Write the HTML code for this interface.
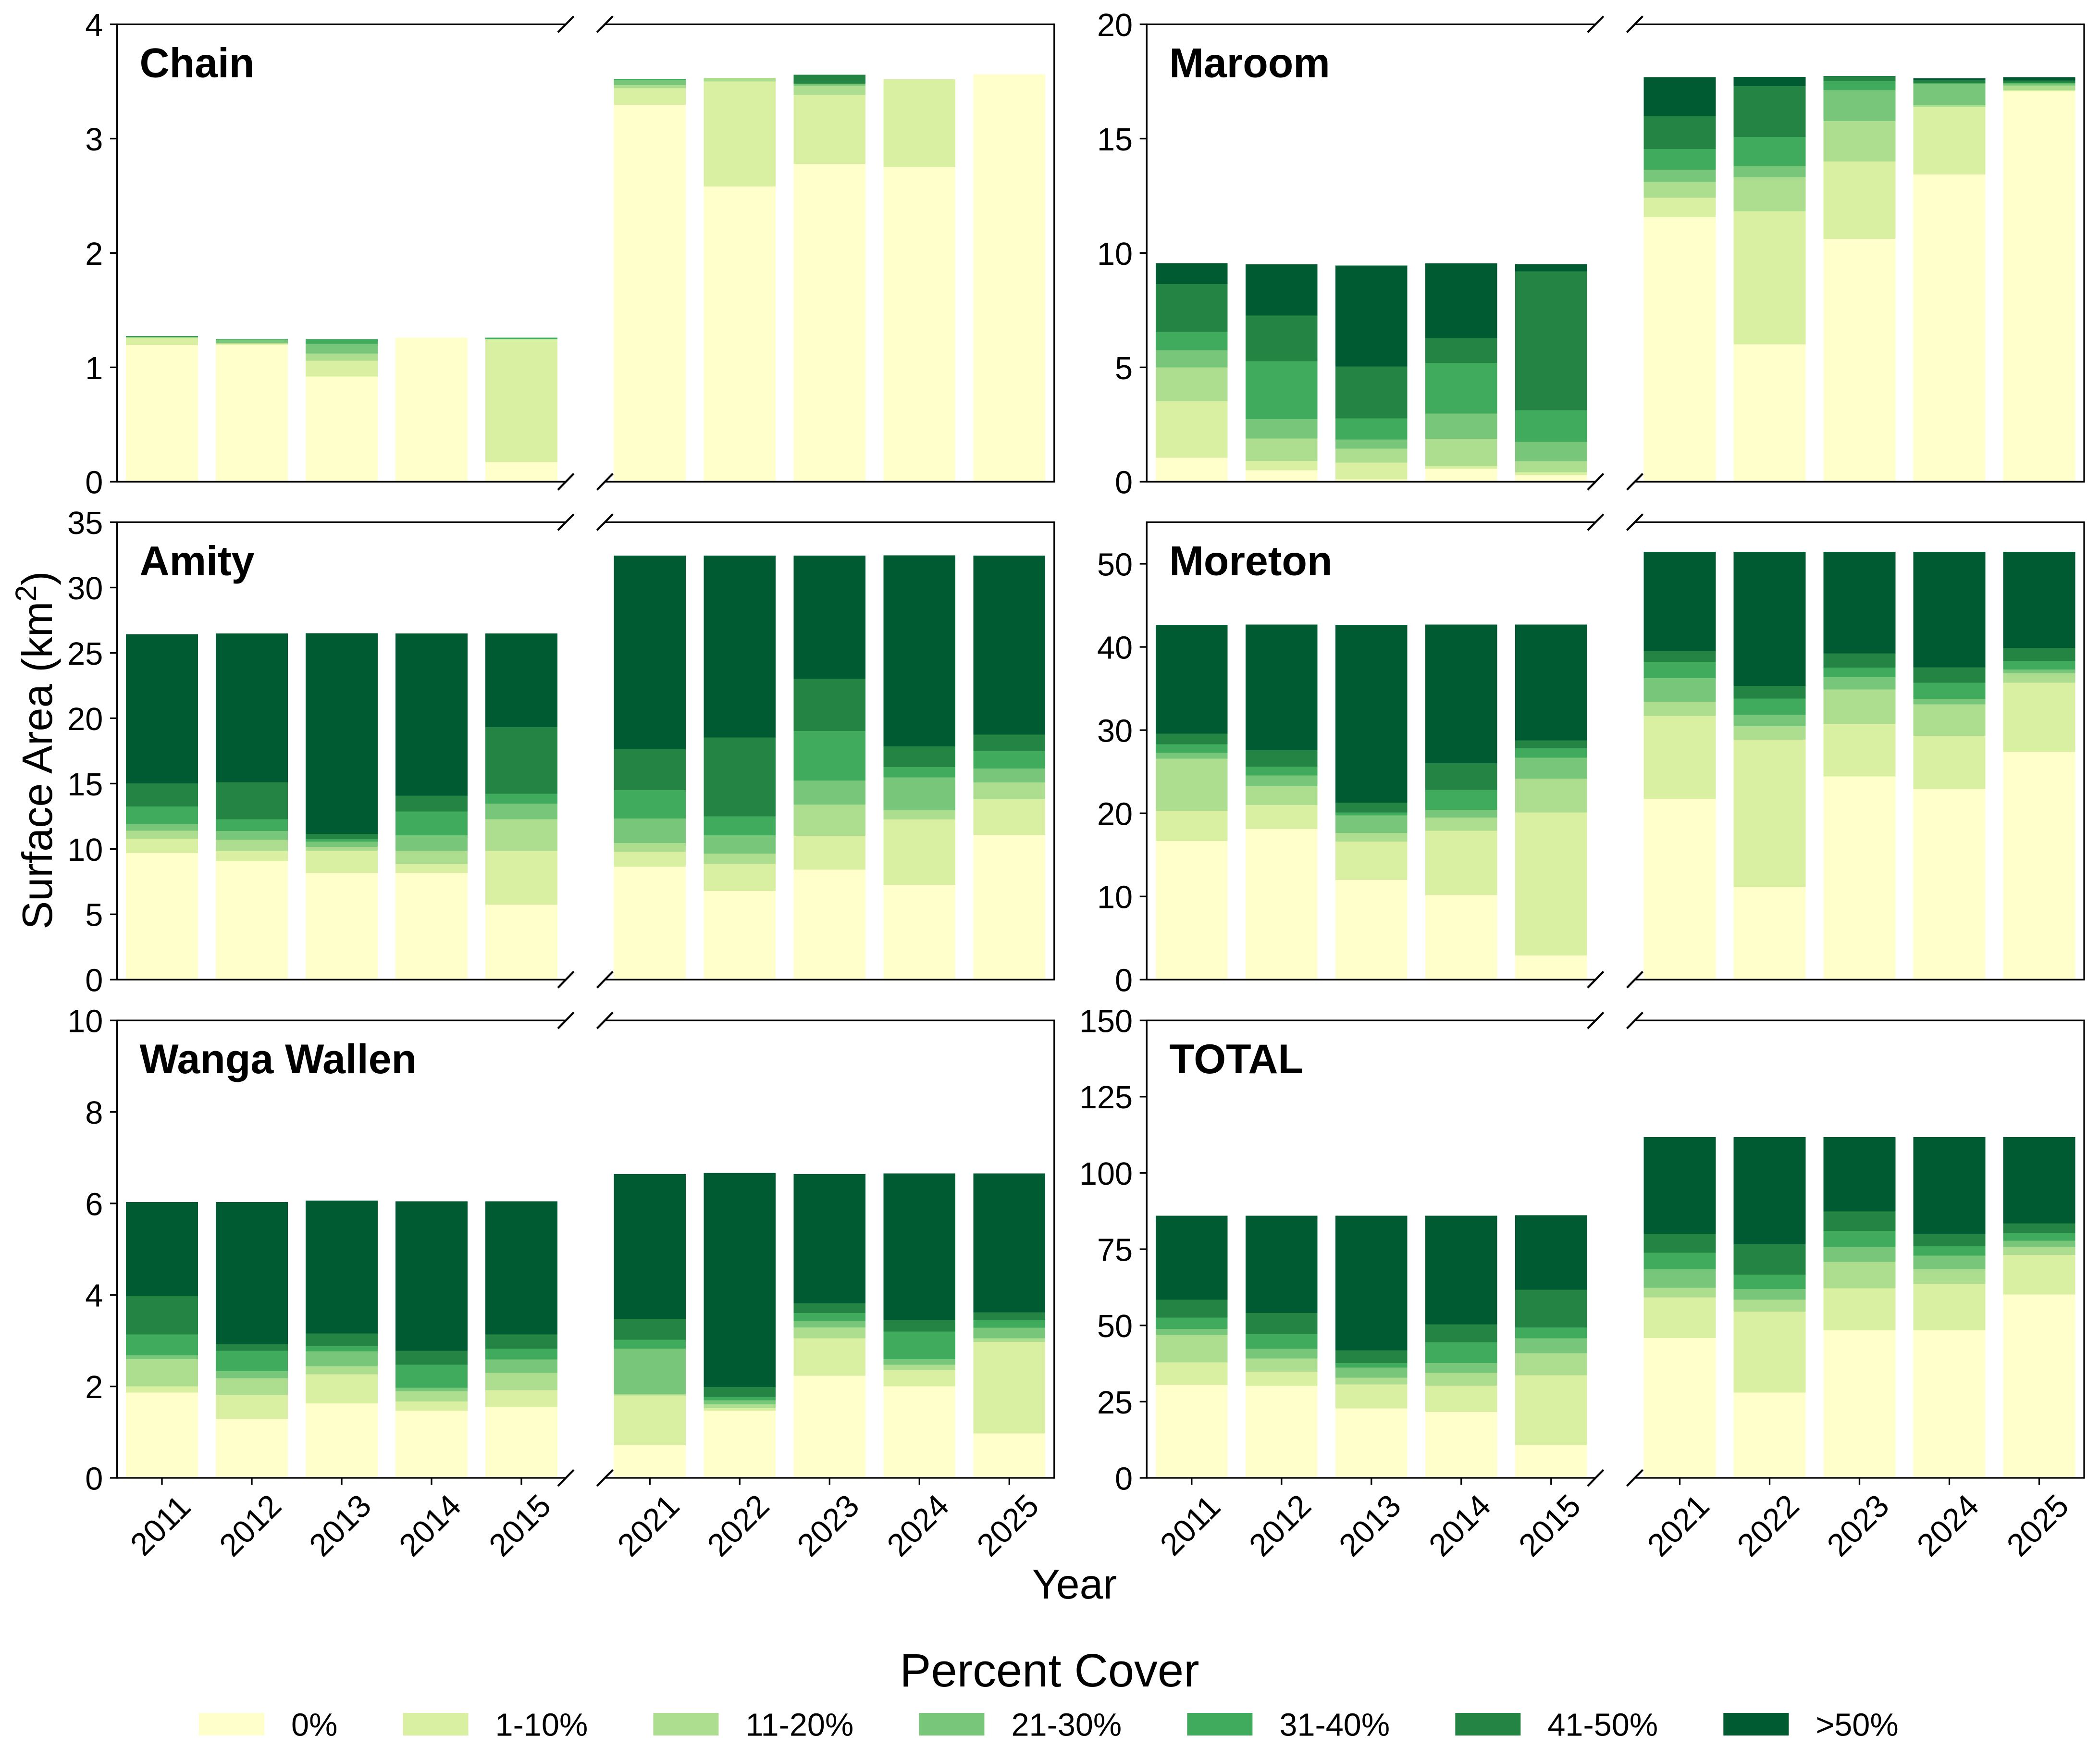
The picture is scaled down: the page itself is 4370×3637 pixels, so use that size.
<!DOCTYPE html>
<html lang="en">
<head>
<meta charset="utf-8">
<title>Percent cover by surface area</title>
<style>
html,body{margin:0;padding:0;background:#fff;}
svg{display:block;}
text{font-family:"Liberation Sans",Arial,sans-serif;fill:#000;}
</style>
</head>
<body>
<svg id="chart" xmlns="http://www.w3.org/2000/svg" width="4370" height="3637" viewBox="0 0 4370 3637"></svg>
<script>
const years = [2011,2012,2013,2014,2015,2021,2022,2023,2024,2025];
const coverLabels = ['0%','1-10%','11-20%','21-30%','31-40%','41-50%','>50%'];
const coverColors = ['#ffffcc','#d9f0a3','#addd8e','#78c679','#41ab5d','#238443','#005a32'];

// One row per year, one column per cover class (km2)
const chainValues = [
 [1.195,.06,.006,.006,.004,.003,0],
 [1.20,.008,.005,.03,.004,.003,0],
 [.92,.139,.062,.085,.039,.003,0],
 [1.26,0,0,0,0,0,0],
 [.171,1.074,0,0,.015,0,0],
 [3.295,.147,.027,.044,.007,.002,0],
 [2.581,.918,.032,0,0,0,0],
 [2.779,.604,.08,.018,0,.077,0],
 [2.752,.767,0,0,0,0,0],
 [3.563,0,0,0,0,0,0]
];
const maroomValues = [
 [1.047,2.478,1.475,.752,.797,2.094,.915],
 [.501,.413,.974,.855,2.522,2.006,2.228],
 [.103,.738,.604,.399,.929,2.271,4.41],
 [.56,.133,1.18,1.106,2.213,1.091,3.26],
 [.295,.118,.487,.855,1.372,6.077,.309],
 [11.578,.841,.693,.531,.9,1.445,1.696],
 [6.003,5.826,1.475,.501,1.269,2.227,.398],
 [10.619,3.378,1.77,1.357,.383,.222,.015],
 [13.437,2.935,.088,.944,.02,.128,.088],
 [17.065,.059,.192,.103,.029,.089,.147]
];
const amityValues = [
 [9.673,1.107,.615,.517,1.33,1.771,11.421],
 [9.082,.788,.836,.665,.911,2.83,11.371],
 [8.147,1.723,.295,.394,.197,.393,15.358],
 [8.147,.689,1.034,1.181,1.821,1.206,12.405],
 [5.735,4.135,2.412,1.181,.763,5.095,7.162],
 [8.639,1.157,.664,1.871,2.166,3.15,14.792],
 [6.768,2.092,.788,1.403,1.452,6.03,13.906],
 [8.417,2.585,2.387,1.846,3.79,3.987,9.427],
 [7.26,4.997,.689,2.535,.788,1.575,14.62],
 [11.076,2.732,1.279,1.059,1.329,1.28,13.684]
];
const moretonValues = [
 [16.67,3.636,6.265,.696,1.045,1.276,13.072],
 [18.101,2.901,2.243,1.315,1.044,1.973,15.123],
 [11.99,4.603,1.044,2.127,.348,1.161,21.387],
 [10.172,7.736,1.585,.929,2.398,3.21,16.67],
 [2.901,17.211,4.061,2.514,1.161,.928,13.924],
 [21.737,9.978,1.702,2.823,1.973,1.315,11.912],
 [11.1,17.753,1.625,1.353,1.973,1.508,16.128],
 [24.444,6.304,4.139,1.47,1.16,1.702,12.221],
 [22.936,6.381,3.791,.657,1.934,1.857,13.884],
 [27.384,8.315,1.122,.464,1.044,1.547,11.564]
];
const wangaValues = [
 [1.864,.139,.593,.085,.455,.839,2.057],
 [1.287,.523,.37,.154,.447,.147,3.104],
 [1.626,.639,.177,.324,.115,.278,2.904],
 [1.464,.208,.223,.077,.501,.308,3.267],
 [1.549,.369,.378,.293,.238,.309,2.912],
 [.716,1.087,.038,.986,.193,.455,3.166],
 [1.471,.054,.085,.085,.077,.216,4.676],
 [2.234,.817,.239,.138,.178,.215,2.82],
 [2.003,.354,.116,.123,.601,.254,3.205],
 [.971,2.003,.077,.231,.177,.162,3.035]
];
const totalValues = [
 [30.51,7.4,9.01,1.96,3.7,5.9,27.5],
 [30.16,4.63,4.39,3.12,4.85,6.94,31.89],
 [22.77,7.86,2.19,3.35,1.5,4.17,44.14],
 [21.61,8.67,4.16,3.23,6.82,5.9,35.59],
 [10.75,22.88,7.28,4.85,3.59,12.36,24.39],
 [45.88,13.29,3.12,6.13,5.43,6.24,31.66],
 [27.97,26.58,3.93,3.46,4.74,9.94,35.13],
 [48.42,13.75,8.67,4.86,5.31,6.36,24.38],
 [48.42,15.26,4.74,4.5,3.12,3.93,31.78],
 [60.09,13.06,2.55,2.08,2.54,3.12,28.31]
];

const chainTicks = [0,1,2,3,4];
const maroomTicks = [0,5,10,15,20];
const amityTicks = [0,5,10,15,20,25,30,35];
const moretonTicks = [0,10,20,30,40,50];
const wangaTicks = [0,2,4,6,8,10];
const totalTicks = [0,25,50,75,100,125,150];

const panels = [
 {title:'Chain', key:'chain', col:0, row:0, yMax:4, ticks:chainTicks, values:chainValues},
 {title:'Maroom', key:'maroom', col:1, row:0, yMax:20, ticks:maroomTicks, values:maroomValues},
 {title:'Amity', key:'amity', col:0, row:1, yMax:35, ticks:amityTicks, values:amityValues},
 {title:'Moreton', key:'moreton', col:1, row:1, yMax:55, ticks:moretonTicks, values:moretonValues},
 {title:'Wanga Wallen', key:'wanga-wallen', col:0, row:2, yMax:10, ticks:wangaTicks, values:wangaValues},
 {title:'TOTAL', key:'total', col:1, row:2, yMax:150, ticks:totalTicks, values:totalValues}
];

const SVGNS = 'http://www.w3.org/2000/svg';
const svg = document.getElementById('chart');
const colLeft = [243.5, 2386.3];
const colRight = [1258.8, 3402];
const rowTop = [50.5, 1086.5, 2123.2];
const plotH = 951.8;
const segW = 935;
const pitch = segW / 5;
const axisW = 3.3;
const tickLen = 14.6;
const tickFont = 66.67;

function mk(parent, tag, attrs, txt) {
  const el = document.createElementNS(SVGNS, tag);
  for (const k in attrs) el.setAttribute(k, attrs[k]);
  if (txt !== undefined) el.textContent = txt;
  parent.appendChild(el);
  return el;
}
function xScale(p, i) {
  return i < 5
    ? colLeft[p.col] + (i + 0.5) * pitch
    : colRight[p.col] + (i - 5 + 0.5) * pitch;
}
function yScale(p, v) {
  return rowTop[p.row] + plotH - (v / p.yMax) * plotH;
}
function axisLine(parent, x1, y1, x2, y2, w) {
  return mk(parent, 'line', {x1:x1, y1:y1, x2:x2, y2:y2, stroke:'#000', 'stroke-width':w});
}

panels.forEach(function (p) {
  const g = mk(svg, 'g', {});
  
  

  // stacked bars
  p.values.forEach(function (row, i) {
    let base = 0;
    row.forEach(function (v, s) {
      if (v > 0) {
        const yTop = yScale(p, base + v);
        const yBot = yScale(p, base);
        const bw = pitch * 0.8;
        const bar = mk(g, 'rect', {x: xScale(p, i) - bw / 2, y: yTop, width: bw, height: yBot - yTop, fill: coverColors[s], 'shape-rendering': 'crispEdges'});
        
        
      }
      base += v;
    });
  });

  const L = colLeft[p.col], R = colRight[p.col];
  const top = rowTop[p.row], bot = top + plotH;

  // spines
  const sl = axisLine(g, L, top - axisW / 2, L, bot + axisW / 2, axisW);
  
  
  const st1 = axisLine(g, L, top, L + segW, top, axisW);
  
  
  const sb1 = axisLine(g, L, bot, L + segW, bot, axisW);
  
  
  const st2 = axisLine(g, R, top, R + segW, top, axisW);
  
  
  const sb2 = axisLine(g, R, bot, R + segW, bot, axisW);
  
  
  const sr = axisLine(g, R + segW, top - axisW / 2, R + segW, bot + axisW / 2, axisW);
  
  

  // axis-break marks
  [L + segW - 1, R].forEach(function (bx) {
    [top, bot].forEach(function (by) {
      const m = axisLine(g, bx - 16.5, by + 16.8, bx + 16.5, by - 16.8, 4.2);
      
      
    });
  });

  // y ticks
  p.ticks.forEach(function (t) {
    const y = yScale(p, t);
    const tk = axisLine(g, L - tickLen, y, L, y, axisW);
    
    
    const lb = mk(g, 'text', {x: L - 29.2, y: y + 24.4, 'text-anchor': 'end', 'font-size': tickFont}, String(t));
    
    
  });

  // x ticks on the bottom row only
  if (p.row === 2) {
    years.forEach(function (yr, i) {
      const x = xScale(p, i);
      const tk = axisLine(g, x, bot, x, bot + tickLen, axisW);
      
      
      const cx = x - 4, cy = bot + 98;
      const lb = mk(g, 'text', {x: cx, y: cy + 24, 'text-anchor': 'middle', 'font-size': tickFont, transform: 'rotate(-45 ' + cx + ' ' + cy + ')'}, String(yr));
      
      
    });
  }

  // panel title
  const ti = mk(g, 'text', {x: L + 47, y: top + 110, 'font-size': 86, 'font-weight': 'bold'}, p.title);
  
  
});

// y-axis title
const yTitle = mk(svg, 'text', {x: 0, y: 0, 'text-anchor': 'middle', 'font-size': 88.3, transform: 'translate(108 1561) rotate(-90)'});


mk(yTitle, 'tspan', {}, 'Surface Area (km');
mk(yTitle, 'tspan', {dy: -33, 'font-size': 61}, '2');
mk(yTitle, 'tspan', {dy: 33}, ')');

// x-axis title
const xTitle = mk(svg, 'text', {x: 2236, y: 3326, 'text-anchor': 'middle', 'font-size': 87.5}, 'Year');



// legend
const legend = mk(svg, 'g', {});


const legendTitle = mk(legend, 'text', {x: 2184, y: 3509, 'text-anchor': 'middle', 'font-size': 97.5}, 'Percent Cover');


let legendX = 414;
coverLabels.forEach(function (lab, s) {
  const swatch = mk(legend, 'rect', {x: legendX, y: 3564, width: 136, height: 47, fill: coverColors[s]});
  
  
  const tx = mk(legend, 'text', {x: legendX + 192, y: 3611.5, 'font-size': tickFont}, lab);
  
  
  legendX += tx.getComputedTextLength() + 328.2;
});
</script>
</body>
</html>
